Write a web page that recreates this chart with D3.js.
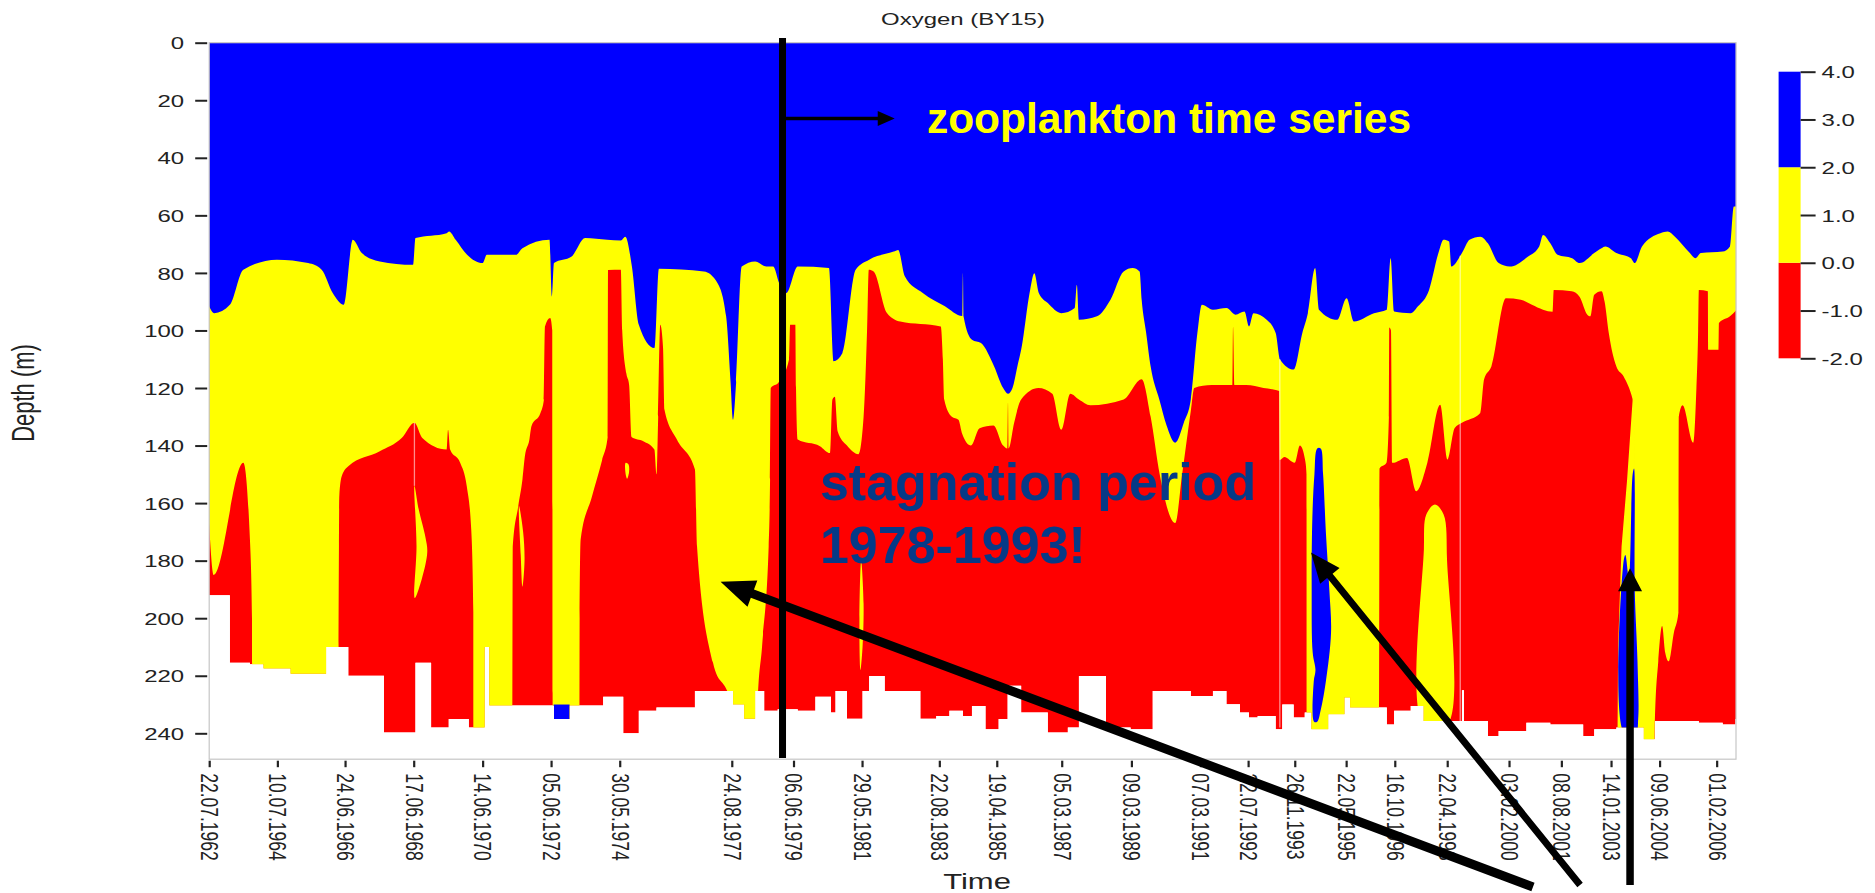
<!DOCTYPE html>
<html>
<head>
<meta charset="utf-8">
<script src="https://cdn.jsdelivr.net/npm/d3@7"></script>
<style>
  html, body { margin: 0; padding: 0; background: #fff; }
  svg { display: block; }
  text { font-family: "Liberation Sans", Arial, sans-serif; }
</style>
</head>
<body>
<svg id="chart" width="1875" height="893"></svg>
<script>
// ---- data -------------------------------------------------------------
// Tick dates on the time axis (cruise dates)
const tickDates = ["22.07.1962","10.07.1964","24.06.1966","17.06.1968","14.06.1970","05.06.1972",
  "30.05.1974","24.08.1977","06.06.1979","29.05.1981","22.08.1983","19.04.1985","05.03.1987",
  "09.03.1989","07.03.1991","22.07.1992","26.11.1993","22.05.1995","16.10.1996","22.04.1998",
  "03.02.2000","08.08.2001","14.01.2003","09.06.2004","01.02.2006"];
const timeRange = ["22.07.1962", "24.08.2006"];
const depthTicks = [0, 20, 40, 60, 80, 100, 120, 140, 160, 180, 200, 220, 240];
const depthMax = 249;

// Depth (m) of the 2 ml/l isoline; [decimal year, depth]
const oxycline = [[1962.55,91.6],[1962.70,94.0],[1963.15,91.1],[1963.54,78.9],[1964.51,75.4],[1965.41,76.6],
  [1965.80,78.9],[1966.12,87.0],[1966.44,91.1],[1966.70,68.5],[1966.96,73.1],[1967.48,76.0],[1968.44,77.2],
  [1968.51,67.9],[1969.41,66.2],[1969.48,65.6],[1969.67,68.5],[1970.00,73.7],[1970.45,76.6],[1970.57,73.7],
  [1971.41,73.7],[1971.60,71.4],[1972.38,68.5],[1972.45,88.2],[1972.51,76.6],[1973.02,74.3],[1973.41,67.9],
  [1974.05,68.5],[1974.44,68.7],[1974.57,67.4],[1974.76,77.8],[1974.96,98.0],[1975.41,106.1],[1975.54,78.6],
  [1976.84,79.5],[1977.23,83.5],[1977.48,95.1],[1977.61,118.3],[1977.68,131],[1977.77,118],[1977.93,77.8],
  [1978.32,76.0],[1978.64,77.8],[1978.84,77.8],[1979.01,83.5],[1979.22,87.0],[1979.55,77.8],[1980.45,78.3],
  [1980.58,110.7],[1980.84,107.8],[1981.22,78.9],[1981.61,75.4],[1982.32,72.6],[1982.45,72.0],[1982.64,81.2],
  [1983.16,87.0],[1983.80,91.6],[1984.30,95],[1984.32,80],[1984.34,95.2],[1984.58,103.2],[1984.84,104.4],
  [1985.22,112.5],[1985.48,120],[1985.62,122],[1985.75,120],[1985.90,112],[1986.00,106.7],[1986.26,85.9],
  [1986.38,80.1],[1986.51,87.0],[1986.77,90.5],[1987.16,94.0],[1987.55,92.2],[1987.61,84.1],[1987.67,96.3],
  [1988.19,95.1],[1988.58,89.3],[1988.96,79.5],[1989.22,78.3],[1989.42,79.5],[1989.48,89.3],[1989.61,100.9],
  [1989.74,112.5],[1989.99,124],[1990.20,133],[1990.45,139],[1990.70,132],[1990.90,124],[1991.09,100.9],
  [1991.22,91.1],[1991.54,92.8],[1991.93,92.2],[1992.19,94.5],[1992.45,93.4],[1992.58,98.6],[1992.71,94.0],
  [1993.09,96.3],[1993.35,100.9],[1993.48,110.2],[1993.87,113.6],[1994.12,100.9],[1994.28,94.0],[1994.49,78.3],
  [1994.60,92.8],[1995.13,96.3],[1995.40,88.8],[1995.61,96.9],[1996.19,94.0],[1996.56,92.8],[1996.67,74.9],
  [1996.77,93.4],[1997.25,94.0],[1997.46,91.6],[1997.78,85.9],[1998.05,73.1],[1998.20,68.5],[1998.36,69.1],
  [1998.42,77.8],[1998.73,73.1],[1998.95,68.5],[1999.26,67.4],[1999.48,69.7],[1999.79,76.6],[2000.11,77.8],
  [2000.64,74.3],[2000.96,70.8],[2001.07,66.8],[2001.28,69.7],[2001.49,73.7],[2001.91,74.9],[2002.13,76.6],
  [2002.55,73.1],[2002.76,71.4],[2002.87,70.8],[2003.19,73.1],[2003.61,74.9],[2003.72,76.6],[2003.93,70.8],
  [2004.46,66.2],[2004.67,65.6],[2004.88,67.4],[2005.31,73.1],[2005.47,74.9],[2005.63,73.1],[2006.26,72.6],
  [2006.47,70.8],[2006.58,56.9],[2006.65,56.9]];

// Depth (m) of the 0 ml/l isoline (top of the hydrogen sulphide layer); 250 = none in the profile
const anoxicTop = [[1962.55,167],[1962.68,185],[1963.54,146],[1963.73,172.6],[1963.79,200],[1963.80,250],
  [1966.28,250],[1966.29,210],[1966.30,175],[1966.31,157.6],[1966.38,150.7],[1966.57,147.2],[1967.48,142.0],
  [1968.12,137.3],[1968.48,132.1],[1968.70,137.3],[1969.41,141.4],[1969.45,134.5],[1969.51,141.4],[1969.80,146.0],
  [1969.99,154.1],[1970.12,169.2],[1970.18,198],[1970.19,250],
  [1971.31,250],[1971.32,175],[1971.48,161],[1971.60,151.8],[1971.67,143.7],[1971.80,138],[1971.86,133.3],
  [1972.12,128.7],[1972.22,124],[1972.25,98.6],[1972.40,95.7],[1972.46,100],[1972.47,226],[1972.48,250],
  [1973.24,250],[1973.25,200],[1973.28,172.6],[1973.60,158],[1973.90,145],[1974.06,137],[1974.07,79],
  [1974.44,78.9],[1974.48,100],[1974.60,115],[1974.68,119],[1974.75,137],[1975.09,138.5],[1975.41,141.4],
  [1975.47,150],[1975.52,130],[1975.58,98],[1975.66,106],[1975.70,127.5],[1976.06,137.9],[1976.58,148.3],
  [1976.64,175],[1977.10,215.4],[1977.60,229],[1977.65,250],
  [1978.35,250],[1978.39,229],[1978.52,209.7],[1978.71,175],[1978.75,151.8],[1978.77,120],[1979.00,118],
  [1979.30,110],[1979.33,98],[1979.48,98],[1979.50,120],[1979.55,137.9],[1980.19,140.2],[1980.48,142.6],
  [1980.55,124],[1980.62,123],[1980.70,135],[1980.97,140],[1981.30,143],[1981.45,130],[1981.55,100],
  [1981.60,78.9],[1981.74,79.5],[1982.13,94],[1982.51,96.9],[1983.68,98.6],[1983.74,110],[1983.78,124],
  [1984.00,130],[1984.19,131],[1984.30,136],[1984.55,140],[1984.80,134],[1985.20,133],[1985.48,140],
  [1985.60,141],[1985.62,125],[1985.64,141],[1985.80,132],[1986.00,124],[1986.50,120],[1986.90,122],
  [1987.16,134.5],[1987.42,122],[1987.67,124],[1988.00,126],[1988.96,124],[1989.48,117],[1989.74,130],
  [1990.00,150],[1990.45,166.9],[1990.65,150],[1990.90,128],[1991.00,120],[1991.50,119],[1992.10,119],
  [1992.12,98.6],[1992.16,119],[1992.50,119],[1993.00,120],[1993.45,121],[1993.47,145],[1993.60,144],
  [1993.90,146],[1994.05,140],[1994.20,145],[1994.24,150],[1994.25,250],
  [1996.34,250],[1996.35,148],[1996.55,146],[1996.62,130],[1996.63,99],[1996.68,100],[1996.72,146],
  [1997.14,144.3],[1997.41,155.9],[1997.73,146],[1998.10,125.8],[1998.31,144.9],[1998.52,133.9],
  [1998.73,132.1],[1999.26,128.7],[1999.37,117],[1999.58,112.5],[2000.00,88.8],[2000.43,89.3],[2000.75,91.1],
  [2001.07,92.8],[2001.35,93.5],[2001.38,85.9],[2001.90,86.4],[2002.13,88.4],[2002.35,94.5],[2002.44,95.1],
  [2002.55,87.6],[2002.76,86.4],[2002.85,90],[2002.97,100.9],[2003.19,112.5],[2003.40,116],[2003.66,124],
  [2003.70,126],[2003.71,250],
  [2004.29,250],[2004.30,236],[2004.40,215],[2004.51,202.7],[2004.60,212],[2004.70,215],[2004.85,205],
  [2004.98,198],[2004.99,130],[2005.10,126],[2005.41,139],[2005.50,120],[2005.55,100],[2005.57,85.9],
  [2005.83,86.4],[2005.84,106.7],[2006.14,106.7],[2006.15,97.4],[2006.47,95.1],[2006.65,93]];

// Deepest sample of each station (m); [decimal year, depth], held until the next station
const bottomDepth = [[1962.55,192],[1963.15,215.5],[1963.73,216],[1964.12,217.5],[1964.90,219.3],[1965.93,210],
  [1966.57,220],[1967.60,239.7],[1968.51,215.5],[1968.96,238],[1969.47,235],[1970.05,238],[1970.51,210],
  [1970.64,230.3],[1972.51,235],[1972.96,230.3],[1973.93,227.3],[1974.51,240],[1974.96,232.2],[1975.47,231],
  [1976.58,225.3],[1977.68,230],[1978.00,234.9],[1978.32,225.3],[1978.58,232.2],[1978.97,231.6],[1979.55,232.2],
  [1980.06,227.3],[1980.51,232.8],[1980.64,225.3],[1980.97,234.9],[1981.42,225.3],[1981.61,220.1],[1982.06,225.3],
  [1983.09,234.9],[1983.55,234],[1983.93,232.2],[1984.32,234],[1984.58,230.5],[1984.97,238.6],[1985.35,235],
  [1985.61,223.5],[1986.00,232.8],[1986.77,239.7],[1987.35,238],[1987.67,220.1],[1988.45,238.6],[1988.84,238],
  [1989.16,238.6],[1989.80,225.3],[1990.90,227],[1991.54,225.3],[1991.93,229.9],[1992.32,232.8],[1992.58,234.5],
  [1992.83,234],[1993.35,238.6],[1993.54,230],[1993.87,234.5],[1994.19,232.8],[1994.38,238.6],[1994.87,233.4],
  [1995.34,227.6],[1995.50,231],[1996.56,236.9],[1996.77,232.2],[1997.25,230.5],[1997.62,235.7],[1998.73,225],
  [1998.79,235.7],[1999.48,240.9],[1999.79,239.2],[2000.59,236.3],[2001.28,236.9],[2002.23,240.9],[2002.55,238.6],
  [2003.19,238],[2003.98,242.1],[2004.30,235.7],[2005.57,236.3],[2006.26,236.9],[2006.63,235],[2006.65,235]];

// Hypoxic (0-2 ml/l) water enclosed in the anoxic layer
const yellowLenses = [
  [[1968.48,154],[1968.60,162],[1968.80,172],[1968.85,177],[1968.70,186],[1968.49,193],[1968.54,175]],
  [[1971.50,161],[1971.62,170],[1971.66,180],[1971.60,189],[1971.55,178]],
  [[1974.58,146],[1974.66,146.5],[1974.68,149],[1974.62,151.5],[1974.57,149]],
  [[1981.38,180],[1981.45,195],[1981.42,210],[1981.36,218],[1981.33,200]],
  [[1997.62,237],[1997.63,176],[1997.70,164],[1997.95,160.5],[1998.20,164],[1998.30,180],[1998.31,237]]
];
const yellowWedge = [[2003.66,124],[2003.50,151.8],[2003.34,175],[2003.24,209.7],[2003.22,245],[2003.72,245],[2003.72,124]];

// Oxygenated (>2 ml/l) inflow water at depth
const blueLenses = [
  [[1994.55,141],[1994.65,141],[1994.72,150],[1994.80,170],[1994.90,190],[1994.95,205],[1994.80,222],
   [1994.65,232],[1994.55,236],[1994.46,236],[1994.45,222],[1994.50,218],[1994.42,212],[1994.39,190],
   [1994.41,165],[1994.47,150]],
  [[2003.40,180],[2003.45,178],[2003.55,186],[2003.66,150],[2003.70,148],[2003.72,190],[2003.80,215],
   [2003.82,235],[2003.75,240],[2003.42,240]]
];
const bluePool = [1972.50, 1972.96, 230, 236]; // start, end, top, bottom

// Interpolation seams: [year, from depth, to depth]
const seams = [[1968.48,132,154],[1993.47,110,238],[1998.68,74,236]];

// Colour classes (ml/l)
const legendBreaks = [-2, 0, 2, 4];
const legendTicks = [-2, -1, 0, 1, 2, 3, 4];

// Annotation anchors [year, depth]
const cutLine = {year: 1979.11, from: -1.6, to: 248.6};
const cutArrow = {from: [1979.11, 26.3], to: [1982.35, 26.3]};
const zooLabel = {text: "zooplankton time series", at: [1983.28, 31.4]};
const stagnationLabel = {lines: ["stagnation period", "1978-1993!"], at: [1980.19, 158.9], lineGap: 21.9};
const inflowArrows = [
  {tail: [2000.78, 293.4], tip: [1977.32, 187.3], w: 9,   head: 34, headW: 28},
  {tail: [2002.14, 292.7], tip: [1994.37, 177.2], w: 7,   head: 30, headW: 25},
  {tail: [2003.585, 292.7], tip: [2003.585, 182.6], w: 7.5, head: 23, headW: 24}
];

// ---- drawing ------------------------------------------------------------
const SX = 1.41;                 // horizontal stretch of the chart lettering
const BLUE = "#0000ff", YELLOW = "#ffff00", RED = "#ff0000";
const svg = d3.select("#chart");
const parse = d3.utcParse("%d.%m.%Y");
const fmt = d3.utcFormat("%d.%m.%Y");

function toDate(yr) {
  const Y = Math.floor(yr);
  const a = Date.UTC(Y, 0, 1), b = Date.UTC(Y + 1, 0, 1);
  return new Date(a + (yr - Y) * (b - a));
}

const x = d3.scaleUtc().domain(timeRange.map(parse)).range([209.2, 1736]);
const y = d3.scaleLinear().domain([0, depthMax]).range([42.7, 759.2]);
const px = d => x(toDate(d[0]));
const py = d => y(d[1]);

svg.append("rect").attr("width", 1875).attr("height", 893).attr("fill", "#fff");

// water column (clip region and anoxic fill)
const waterArea = d3.area().curve(d3.curveStepAfter).x(px).y0(y(0)).y1(py);
svg.append("clipPath").attr("id", "water").append("path").attr("d", waterArea(bottomDepth));

const field = svg.append("g").attr("clip-path", "url(#water)");
field.append("path").attr("d", waterArea(bottomDepth)).attr("fill", RED);

const layer = d3.area().curve(d3.curveMonotoneX).x(px).y0(y(0)).y1(py);
field.append("path").attr("d", layer(anoxicTop)).attr("fill", YELLOW);
field.append("path").attr("d", layer(oxycline)).attr("fill", BLUE);

const lens = d3.line().x(px).y(py).curve(d3.curveCatmullRomClosed.alpha(0.5));
const poly = d3.line().x(px).y(py).curve(d3.curveLinearClosed);
field.append("path").attr("d", poly(yellowWedge)).attr("fill", YELLOW);
field.selectAll(".ylens").data(yellowLenses).join("path").attr("d", lens).attr("fill", YELLOW);
field.selectAll(".blens").data(blueLenses).join("path").attr("d", lens).attr("fill", BLUE);
field.append("rect")
  .attr("x", x(toDate(bluePool[0]))).attr("y", y(bluePool[2]))
  .attr("width", x(toDate(bluePool[1])) - x(toDate(bluePool[0])))
  .attr("height", y(bluePool[3]) - y(bluePool[2]))
  .attr("fill", BLUE);
field.selectAll(".seam").data(seams).join("line")
  .attr("x1", d => x(toDate(d[0]))).attr("x2", d => x(toDate(d[0])))
  .attr("y1", d => y(d[1])).attr("y2", d => y(d[2]))
  .attr("stroke", "#fff").attr("stroke-opacity", 0.55).attr("stroke-width", 1.3);

// frame
svg.append("rect").attr("x", 209.2).attr("y", 42.7).attr("width", 1736 - 209.2).attr("height", 759.2 - 42.7)
  .attr("fill", "none").attr("stroke", "#c6c6c6").attr("stroke-width", 1.2);

// depth axis
const yAx = svg.append("g").attr("transform", "translate(209.2,0)")
  .call(d3.axisLeft(y).tickValues(depthTicks).tickSize(13).tickPadding(0));
yAx.select(".domain").remove();
yAx.selectAll(".tick line").attr("stroke", "#222").attr("stroke-width", 2).attr("x2", -2).attr("x1", -14);
yAx.selectAll(".tick text").attr("x", 0).attr("dy", "0.36em").attr("fill", "#222")
  .style("font-size", "17px").attr("text-anchor", "end")
  .attr("transform", `translate(-25,0) scale(${SX},1)`);

// time axis
const xAx = svg.append("g").attr("transform", "translate(0,759.2)")
  .call(d3.axisBottom(x).tickValues(tickDates.map(parse)).tickFormat(fmt).tickSize(8).tickPadding(0));
xAx.select(".domain").remove();
xAx.selectAll(".tick line").attr("stroke", "#222").attr("stroke-width", 2.2).attr("y1", 1.5);
xAx.selectAll(".tick text").attr("x", 0).attr("y", 0).attr("dy", "0.35em").attr("fill", "#222")
  .style("font-size", "17.5px").attr("text-anchor", "start")
  .attr("transform", `translate(0,14) scale(${SX},1) rotate(90)`);

// titles
svg.append("text").text("Oxygen (BY15)").attr("text-anchor", "middle").attr("fill", "#222")
  .style("font-size", "17px").attr("transform", `translate(963,25) scale(${SX},1)`);
svg.append("text").text("Depth (m)").attr("text-anchor", "middle").attr("dominant-baseline", "central")
  .attr("fill", "#222").style("font-size", "22px")
  .attr("transform", `translate(24,393) scale(${SX},1) rotate(-90)`);
svg.append("text").text("Time").attr("text-anchor", "middle").attr("fill", "#222")
  .style("font-size", "22px").attr("transform", `translate(977,889) scale(${SX},1)`);

// colour legend
const ly = d3.scaleLinear().domain([legendBreaks[0], legendBreaks[3]]).range([358.3, 71.7]);
const legendColours = [RED, YELLOW, BLUE];
const lg = svg.append("g");
legendColours.forEach((c, i) => {
  lg.append("rect").attr("x", 1778.6).attr("width", 22)
    .attr("y", ly(legendBreaks[i + 1])).attr("height", ly(legendBreaks[i]) - ly(legendBreaks[i + 1]))
    .attr("fill", c);
});
const lAx = svg.append("g").attr("transform", "translate(1800.6,0)")
  .call(d3.axisRight(ly).tickValues(legendTicks).tickFormat(d => d.toFixed(1)).tickSize(15).tickPadding(0));
lAx.select(".domain").remove();
lAx.selectAll(".tick line").attr("stroke", "#222").attr("stroke-width", 2);
lAx.selectAll(".tick text").attr("x", 0).attr("dy", "0.36em").attr("fill", "#222")
  .style("font-size", "17px").attr("text-anchor", "start")
  .attr("transform", `translate(21,0) scale(${SX},1)`);

// ---- annotations ---------------------------------------------------------
const ann = svg.append("g");
function arrow(x1, y1, x2, y2, w, hl, hw) {
  const dx = x2 - x1, dy = y2 - y1, L = Math.hypot(dx, dy);
  const ux = dx / L, uy = dy / L, nx = -uy, ny = ux;
  const bx = x2 - ux * hl, by = y2 - uy * hl;
  const pts = [[x1 + nx * w / 2, y1 + ny * w / 2], [bx + nx * w / 2, by + ny * w / 2],
    [bx + nx * hw / 2, by + ny * hw / 2], [x2, y2], [bx - nx * hw / 2, by - ny * hw / 2],
    [bx - nx * w / 2, by - ny * w / 2], [x1 - nx * w / 2, y1 - ny * w / 2]];
  ann.append("path").attr("d", d3.line()(pts) + "Z").attr("fill", "#000");
}

ann.append("line")
  .attr("x1", x(toDate(cutLine.year))).attr("x2", x(toDate(cutLine.year)))
  .attr("y1", y(cutLine.from)).attr("y2", y(cutLine.to))
  .attr("stroke", "#000").attr("stroke-width", 7);
arrow(px(cutArrow.from), py(cutArrow.from), px(cutArrow.to), py(cutArrow.to), 3.5, 17, 15);

ann.append("text").text(zooLabel.text)
  .attr("x", px(zooLabel.at)).attr("y", py(zooLabel.at))
  .attr("fill", YELLOW).style("font-size", "42.5px").style("font-weight", "bold");

stagnationLabel.lines.forEach((t, i) => {
  ann.append("text").text(t)
    .attr("x", px(stagnationLabel.at))
    .attr("y", y(stagnationLabel.at[1] + i * stagnationLabel.lineGap))
    .attr("fill", "#063a87").style("font-size", "52px").style("font-weight", "bold");
});

inflowArrows.forEach(a => arrow(px(a.tail), py(a.tail), px(a.tip), py(a.tip), a.w, a.head, a.headW));
</script>
</body>
</html>
